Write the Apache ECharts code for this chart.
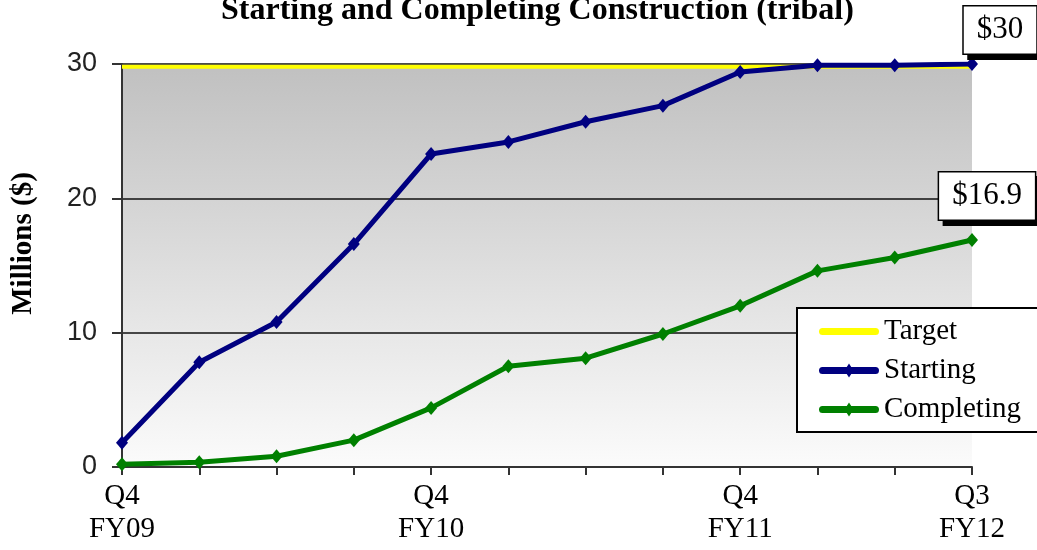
<!DOCTYPE html>
<html>
<head>
<meta charset="utf-8">
<script src="https://cdn.jsdelivr.net/npm/echarts@6/dist/echarts.min.js"></script>
<style>
html,body{margin:0;padding:0;background:#fff;}
#chart{width:1037px;height:550px;}
</style>
</head>
<body>
<div id="chart"></div>
<script>
var categories = ["Q4\nFY09","","","","Q4\nFY10","","","","Q4\nFY11","","","Q3\nFY12"];
var targetValues = [29.8,29.8,29.8,29.8,29.8,29.8,29.8,29.8,29.8,29.8,29.8,29.8];
var startingValues = [1.8,7.8,10.8,16.6,23.3,24.2,25.7,26.9,29.4,29.9,29.9,30];
var completingValues = [0.2,0.35,0.8,2.0,4.4,7.5,8.1,9.9,12.0,14.6,15.6,16.9];
var yTicks = [0,10,20,30];

var serif = '"Liberation Serif","Times New Roman",serif';
var sans = '"Liberation Sans",Arial,sans-serif';

var barPath = 'M3.5,3.5 L56.5,3.5 A3.5,3.5 0 0 1 56.5,10.5 L3.5,10.5 A3.5,3.5 0 0 1 3.5,3.5 Z';
var diamondPath = ' M30,0 L34.5,7 L30,14 L25.5,7 Z';

function lastLabel(arr, offset){
  return arr.map(function(v,i){
    if(i !== arr.length-1) return v;
    return {value:v, label:{
      show:true, position:'inside', offset:offset,
      formatter:function(p){return '$' + p.value;},
      fontFamily:serif, fontSize:31, color:'#000',
      backgroundColor:'#fff', borderColor:'#000', borderWidth:1.5,
      padding:[8,13,8,13],
      shadowColor:'#000', shadowOffsetX:5, shadowOffsetY:5, shadowBlur:0
    }};
  });
}

var chart = echarts.init(document.getElementById('chart'));
chart.setOption({
  animation:false,
  backgroundColor:'#fff',
  title:{
    text:'Starting and Completing Construction (tribal)',
    left:216, top:-10,
    textStyle:{fontFamily:serif, fontWeight:'bold', fontSize:32, color:'#000'}
  },
  legend:{
    orient:'vertical', left:797, top:308,
    backgroundColor:'#fff', borderColor:'#000', borderWidth:2,
    padding:[9,20,8,22],
    itemWidth:60, itemHeight:14, itemGap:10, symbolKeepAspect:true,
    textStyle:{fontFamily:serif, fontSize:29, color:'#000'},
    data:[
      {name:'Target', icon:'path://' + barPath},
      {name:'Starting', icon:'path://' + barPath + diamondPath},
      {name:'Completing', icon:'path://' + barPath + diamondPath}
    ]
  },
  grid:{
    left:122, right:65, top:64, bottom:83,
    show:true, borderWidth:0,
    backgroundColor:new echarts.graphic.LinearGradient(0,0,0,1,[
      {offset:0,color:'#c0c0c0'},{offset:1,color:'#fbfbfb'}
    ])
  },
  xAxis:{
    type:'category', boundaryGap:false, data:categories,
    axisLine:{show:true, lineStyle:{color:'#333', width:2}},
    axisTick:{show:true, alignWithLabel:true, interval:0, length:8, lineStyle:{color:'#333', width:2}},
    axisLabel:{interval:0, margin:13, fontFamily:serif, fontSize:29, lineHeight:33, color:'#000'},
    splitLine:{show:false}
  },
  yAxis:{
    type:'value', min:0, max:30, interval:10,
    name:'Millions ($)', nameLocation:'middle', nameGap:84, nameRotate:90,
    nameTextStyle:{fontFamily:serif, fontWeight:'bold', fontSize:29, color:'#000', padding:[0,0,0,44]},
    axisLine:{show:true, lineStyle:{color:'#333', width:2}},
    axisTick:{show:true, length:10, lineStyle:{color:'#333', width:2}},
    axisLabel:{margin:25, fontFamily:sans, fontSize:27, color:'#222',
      formatter:function(v){return yTicks.indexOf(v)>=0 ? String(v) : '';}},
    splitLine:{show:true, lineStyle:{color:'#111', width:1.5}}
  },
  series:[
    {name:'Target', type:'line', data:targetValues, showSymbol:false, symbol:'none',
     lineStyle:{color:'#ffff00', width:4}, itemStyle:{color:'#ffff00'}, z:2},
    {name:'Starting', type:'line', data:lastLabel(startingValues,[28,-34]),
     symbol:'diamond', symbolSize:[12,14],
     lineStyle:{color:'#000080', width:5}, itemStyle:{color:'#000080'}, z:3},
    {name:'Completing', type:'line', data:lastLabel(completingValues,[15,-44]),
     symbol:'diamond', symbolSize:[12,14],
     lineStyle:{color:'#008000', width:5}, itemStyle:{color:'#008000'}, z:4}
  ]
});
</script>
</body>
</html>
